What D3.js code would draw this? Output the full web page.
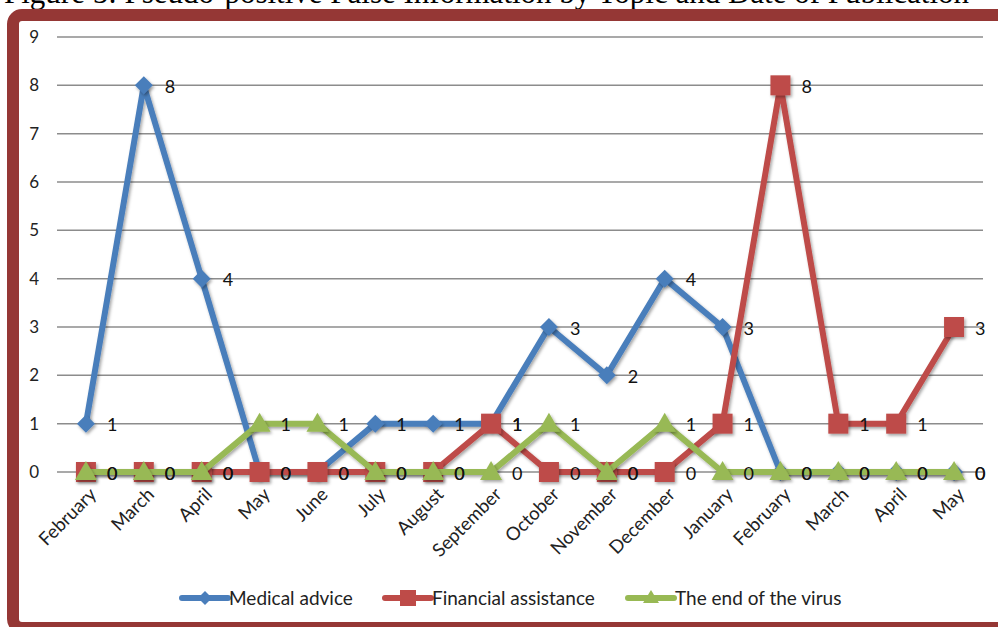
<!DOCTYPE html>
<html>
<head>
<meta charset="utf-8">
<script src="https://d3js.org/d3.v7.min.js"></script>
<style>
  body { margin: 0; background: #fff; }
  svg { display: block; }
</style>
</head>
<body>
<script>
  // data
  const months = ["February", "March", "April", "May", "June", "July", "August", "September",
    "October", "November", "December", "January", "February", "March", "April", "May"];
  const medicalAdvice = [1, 8, 4, 0, 0, 1, 1, 1, 3, 2, 4, 3, 0, 0, 0, 0];
  const financialAssistance = [0, 0, 0, 0, 0, 0, 0, 1, 0, 0, 0, 1, 8, 1, 1, 3];
  const endOfVirus = [0, 0, 0, 1, 1, 0, 0, 0, 1, 0, 1, 0, 0, 0, 0, 0];
  const yTicks = [0, 1, 2, 3, 4, 5, 6, 7, 8, 9];

  const series = [
    { name: "Medical advice", values: medicalAdvice, color: "#4A7EBB", marker: "diamond" },
    { name: "Financial assistance", values: financialAssistance, color: "#BE4B48", marker: "square" },
    { name: "The end of the virus", values: endOfVirus, color: "#98B954", marker: "triangle" }
  ];

  const width = 998, height = 627;
  const margin = { top: 37, left: 57, right: 14, bottom: 155 };
  const font = "Lato, 'Liberation Sans', sans-serif";

  const svg = d3.select("body").append("svg")
    .attr("width", width)
    .attr("height", height);

  const defs = svg.append("defs");
  const shadow = defs.append("filter").attr("id", "shadow")
    .attr("x", "-50%").attr("y", "-50%").attr("width", "200%").attr("height", "200%");
  shadow.append("feDropShadow")
    .attr("dx", 1.5).attr("dy", 2).attr("stdDeviation", 1.5)
    .attr("flood-color", "#000").attr("flood-opacity", 0.35);

  // title, mostly cut off by the top edge (as in the source image)
  svg.append("text")
    .attr("x", 4)
    .attr("y", 3)
    .attr("font-family", "'Liberation Serif', 'Times New Roman', serif")
    .attr("font-size", 31)
    .attr("fill", "#000")
    .text("Figure 5: Pseudo-positive False Information by Topic and Date of Publication");

  // dark red frame
  svg.append("rect")
    .attr("x", 13).attr("y", 15)
    .attr("width", 1010).attr("height", 613)
    .attr("rx", 9)
    .attr("fill", "none")
    .attr("stroke", "#953735")
    .attr("stroke-width", 12);

  const x = d3.scalePoint()
    .domain(d3.range(months.length))
    .range([margin.left, width - margin.right - 1])
    .padding(0.5);

  const y = d3.scaleLinear()
    .domain([0, 9])
    .range([472, margin.top]);

  // gridlines
  svg.append("g")
    .selectAll("line")
    .data(yTicks)
    .join("line")
    .attr("x1", margin.left)
    .attr("x2", width - margin.right - 1)
    .attr("y1", d => y(d))
    .attr("y2", d => y(d))
    .attr("stroke", "#8C8C8C")
    .attr("stroke-width", 1.5);

  // y axis labels
  svg.append("g")
    .selectAll("text")
    .data(yTicks)
    .join("text")
    .attr("x", 39)
    .attr("y", d => y(d))
    .attr("dy", "0.36em")
    .attr("text-anchor", "end")
    .attr("font-family", font)
    .attr("font-size", 17)
    .attr("fill", "#222")
    .text(d => d);

  // x axis labels, rotated
  svg.append("g")
    .selectAll("text")
    .data(months)
    .join("text")
    .attr("transform", (d, i) => "translate(" + (x(i) + 7) + ",491) rotate(-45)")
    .attr("dy", "0.35em")
    .attr("text-anchor", "end")
    .attr("font-family", font)
    .attr("font-size", 18.5)
    .attr("fill", "#222")
    .text(d => d);

  function drawMarker(g, type, color) {
    if (type === "diamond") {
      g.append("path").attr("d", "M0,-9L9,0L0,9L-9,0Z").attr("fill", color);
    } else if (type === "square") {
      g.append("rect").attr("x", -10).attr("y", -10).attr("width", 20).attr("height", 20).attr("fill", color);
    } else {
      g.append("path").attr("d", "M0,-11L11,8L-11,8Z").attr("fill", color);
    }
  }

  const line = d3.line()
    .x((d, i) => x(i))
    .y(d => y(d));

  series.forEach(s => {
    const g = svg.append("g");
    g.append("path")
      .datum(s.values)
      .attr("d", line)
      .attr("fill", "none")
      .attr("stroke", s.color)
      .attr("stroke-width", 6)
      .attr("stroke-linejoin", "round")
      .attr("filter", "url(#shadow)");
    g.selectAll("g.marker")
      .data(s.values)
      .join("g")
      .attr("class", "marker")
      .attr("filter", "url(#shadow)")
      .attr("transform", (d, i) => "translate(" + x(i) + "," + y(d) + ")")
      .each(function () { drawMarker(d3.select(this), s.marker, s.color); });
  });

  // data labels
  series.forEach(s => {
    svg.append("g")
      .selectAll("text")
      .data(s.values)
      .join("text")
      .attr("x", (d, i) => x(i) + 21)
      .attr("y", d => y(d))
      .attr("dy", "0.42em")
      .attr("font-family", font)
      .attr("font-size", 18)
      .attr("fill", "#111")
      .text(d => d);
  });

  // legend
  const legendItems = [
    { s: series[0], x: 182 },
    { s: series[1], x: 385 },
    { s: series[2], x: 628 }
  ];
  const legend = svg.append("g");
  legendItems.forEach(item => {
    const g = legend.append("g").attr("transform", "translate(" + item.x + ",598)");
    g.append("line")
      .attr("x1", 0).attr("x2", 46)
      .attr("stroke", item.s.color)
      .attr("stroke-width", 6)
      .attr("stroke-linecap", "round");
    const m = g.append("g").attr("transform", "translate(23,0)");
    if (item.s.marker === "diamond") {
      m.append("path").attr("d", "M0,-7L7,0L0,7L-7,0Z").attr("fill", item.s.color);
    } else if (item.s.marker === "square") {
      m.append("rect").attr("x", -8).attr("y", -8).attr("width", 16).attr("height", 16).attr("fill", item.s.color);
    } else {
      m.append("path").attr("d", "M0,-8L8,5L-8,5Z").attr("fill", item.s.color);
    }
    g.append("text")
      .attr("x", 47)
      .attr("dy", "0.35em")
      .attr("font-family", font)
      .attr("font-size", 19)
      .attr("fill", "#222")
      .text(item.s.name);
  });
</script>
</body>
</html>
